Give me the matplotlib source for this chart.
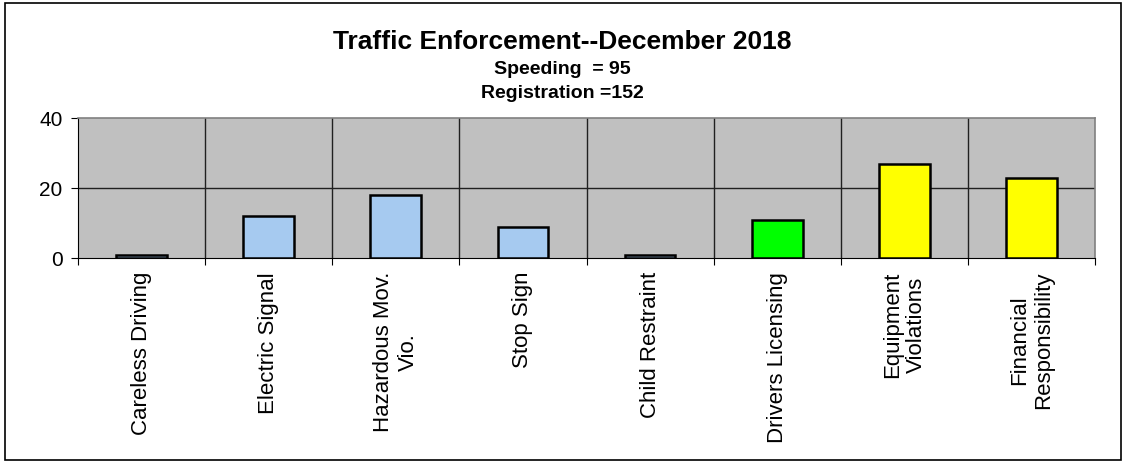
import matplotlib
matplotlib.use("Agg")
import matplotlib.pyplot as plt
import numpy as np
from matplotlib.patches import Rectangle

categories = ["Careless Driving", "Electric Signal", "Hazardous Mov.\nVio.", "Stop Sign",
              "Child Restraint", "Drivers Licensing", "Equipment\nViolations", "Financial\nResponsibility"]
values = [1, 12, 18, 9, 1, 11, 27, 23]
colors = ["#A6CAF0", "#A6CAF0", "#A6CAF0", "#A6CAF0", "#A6CAF0", "#00FF00", "#FFFF00", "#FFFF00"]
title = "Traffic Enforcement--December 2018"
subtitle1 = "Speeding  = 95"
subtitle2 = "Registration =152"
yticks = [0, 20, 40]

plt.rcParams['font.family'] = ['Liberation Sans', 'DejaVu Sans']

W, H = 1124, 461
fig = plt.figure(figsize=(W / 100, H / 100), dpi=100)
fig.patches.append(Rectangle((4.5 / W, 1 / H), 1116 / W, 457 / H, transform=fig.transFigure,
                             fill=False, edgecolor="black", linewidth=1.2))

left, right, top, bottom = 78, 1095, 118, 258
ax = fig.add_axes([left / W, 1 - bottom / H, (right - left) / W, (bottom - top) / H])
ax.set_facecolor("#C0C0C0")

x = np.arange(len(categories))
ax.bar(x, values, width=0.4, color=colors, edgecolor="black", linewidth=1.8, zorder=3)

ax.set_xlim(-0.5, len(categories) - 0.5)
ax.set_ylim(0, 40)
ax.set_yticks(yticks)
ax.set_yticklabels([str(t) for t in yticks], fontsize=15)

# category boundaries
bounds = np.arange(len(categories) + 1) - 0.5
ax.set_xticks(bounds)
ax.set_xticklabels([])
ax.set_xticks(x, minor=True)
ax.set_xticklabels(categories, minor=True, rotation=90, fontsize=16, ha="center", va="top",
                   multialignment="center")
ax.tick_params(axis="x", which="minor", length=0, pad=10)
ax.tick_params(axis="x", which="major", length=5, direction="out", color="black")
ax.tick_params(axis="y", length=5, direction="out", pad=6)

for b in bounds[1:-1]:
    ax.axvline(b, color="#202020", linewidth=1, zorder=1)
for t in yticks[1:-1]:
    ax.axhline(t, color="#202020", linewidth=1, zorder=1)

for s in ["top", "right"]:
    ax.spines[s].set_color("#808080")
    ax.spines[s].set_linewidth(1.2)
ax.spines["left"].set_color("black")
ax.spines["bottom"].set_color("black")

fig.text(0.5, 1 - 42 / H, title, ha="center", va="center", fontsize=19, fontweight="bold")
fig.text(0.5, 1 - 70 / H, subtitle1, ha="center", va="center", fontsize=14, fontweight="bold")
fig.text(0.5, 1 - 93 / H, subtitle2, ha="center", va="center", fontsize=14, fontweight="bold")

fig.savefig("out.png", dpi=100)
